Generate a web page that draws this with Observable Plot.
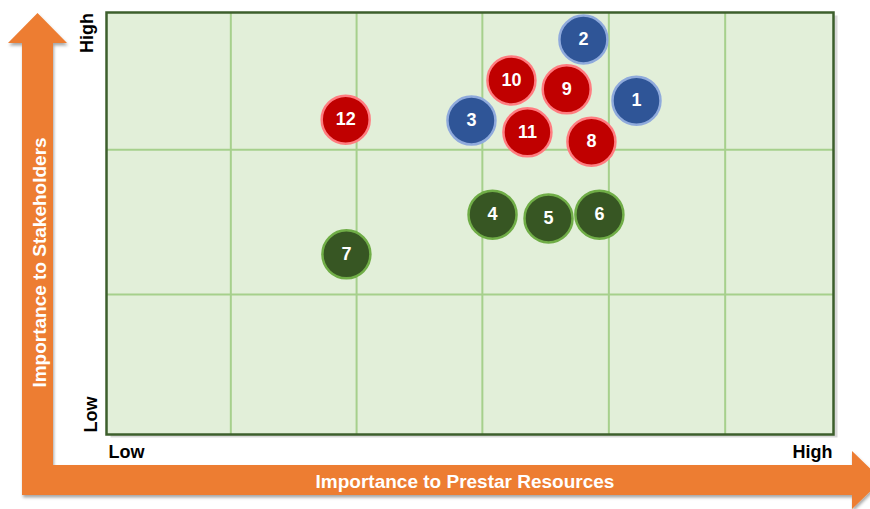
<!DOCTYPE html>
<html><head><meta charset="utf-8">
<script src="https://cdn.jsdelivr.net/npm/d3@7"></script>
<script src="https://cdn.jsdelivr.net/npm/@observablehq/plot@0.6"></script>
<style>
body{margin:0;background:#fff;}
svg{display:block;}
</style>
</head><body><div id="chart"></div>
<script>
// ---- data ----
const ids    = [1, 2, 3, 4, 5, 6, 7, 8, 9, 10, 11, 12];
const xs     = [72.9, 65.6, 50.2, 53.1, 60.8, 67.8, 33.0, 66.7, 63.3, 55.7, 57.9, 32.9];
const ys     = [79.1, 93.6, 74.4, 52.1, 51.2, 52.1, 42.7, 69.4, 81.8, 83.9, 71.6, 74.6];
const groups = ["Blue","Blue","Blue","Green","Green","Green","Green","Red","Red","Red","Red","Red"];
const xGrid  = [17.1, 34.4, 51.7, 69.1, 85.1];
const yGrid  = [33.2, 67.5];
const lowLabel = "Low";
const highLabel = "High";
const xTitle = "Importance to Prestar Resources";
const yTitle = "Importance to Stakeholders";

const data = ids.map((id, i) => ({id, x: xs[i], y: ys[i], group: groups[i]}));
const fillColor   = {Blue: "#2F5597", Green: "#375623", Red: "#C00000"};
const strokeColor = {Blue: "#8FAADC", Green: "#70AD47", Red: "#FF7C80"};
const font = "'Liberation Sans', Arial, Helvetica, sans-serif";

const labelStyle = {fill: "#000", fontWeight: "bold", fontSize: 18, fontFamily: font};

const plot = Plot.plot({
  width: 870, height: 509,
  marginLeft: 106, marginRight: 37, marginTop: 12, marginBottom: 75,
  x: {domain: [0, 100], axis: null},
  y: {domain: [0, 100], axis: null},
  color: {type: "identity"},
  style: {fontFamily: font, background: "white", overflow: "visible"},
  marks: [
    Plot.frame({fill: "#d9d9d9", dx: 4, dy: 3}),
    Plot.frame({fill: "#e2efd9"}),
    Plot.gridX(xGrid, {stroke: "#a6d08c", strokeOpacity: 1, strokeWidth: 2}),
    Plot.gridY(yGrid, {stroke: "#a6d08c", strokeOpacity: 1, strokeWidth: 2}),
    Plot.frame({stroke: "#3d5f2c", strokeWidth: 2.5}),
    Plot.dot(data, {x: "x", y: "y", r: 24,
      fill: d => fillColor[d.group], stroke: d => strokeColor[d.group], strokeWidth: 2.5}),
    Plot.text(data, {x: "x", y: "y", text: "id", fill: "white", fontWeight: "bold", fontSize: 18, fontFamily: font}),
    // axis end labels
    Plot.text([lowLabel], {text: d => d, frameAnchor: "bottom-left", textAnchor: "start", lineAnchor: "bottom", dx: 2, dy: 23, ...labelStyle}),
    Plot.text([highLabel], {text: d => d, frameAnchor: "bottom-right", textAnchor: "end", lineAnchor: "bottom", dx: -1, dy: 23, ...labelStyle}),
    Plot.text([highLabel], {text: d => d, frameAnchor: "top-left", textAnchor: "middle", lineAnchor: "bottom", rotate: -90, dx: -14, dy: 20.5, ...labelStyle}),
    Plot.text([lowLabel], {text: d => d, frameAnchor: "bottom-left", textAnchor: "middle", lineAnchor: "bottom", rotate: -90, dx: -10, dy: -20, ...labelStyle}),
    // arrow titles
    Plot.text([xTitle], {text: d => d, frameAnchor: "bottom", textAnchor: "middle", lineAnchor: "bottom", dx: -5, dy: 53,
      fill: "white", fontWeight: "bold", fontSize: 19, fontFamily: font}),
    Plot.text([yTitle], {text: d => d, frameAnchor: "left", textAnchor: "middle", lineAnchor: "bottom", rotate: -90, dx: -61, dy: 39,
      fill: "white", fontWeight: "bold", fontSize: 19, fontFamily: font})
  ]
});

// decorative orange L-shaped arrows drawn behind everything
const svg = d3.select(plot);
const defs = svg.insert("defs", ":first-child");
const f = defs.append("filter").attr("id", "shadow").attr("x", "-10%").attr("y", "-10%").attr("width", "130%").attr("height", "130%");
f.append("feDropShadow").attr("dx", 1).attr("dy", 2.5).attr("stdDeviation", 1.5).attr("flood-color", "#000").attr("flood-opacity", 0.35);
const g = svg.insert("g", "defs + *").attr("filter", "url(#shadow)");
const arrowPath = [
  "M22,495", "L22,43", "L8,43", "L37.5,13", "L67,43", "L53,43", "L53,465",
  "L852,465", "L852,451", "L882,480", "L852,509", "L852,495", "Z"
].join(" ");
g.append("path").attr("d", arrowPath).attr("fill", "#ED7D31");

document.getElementById("chart").appendChild(plot);
</script>
</body></html>
